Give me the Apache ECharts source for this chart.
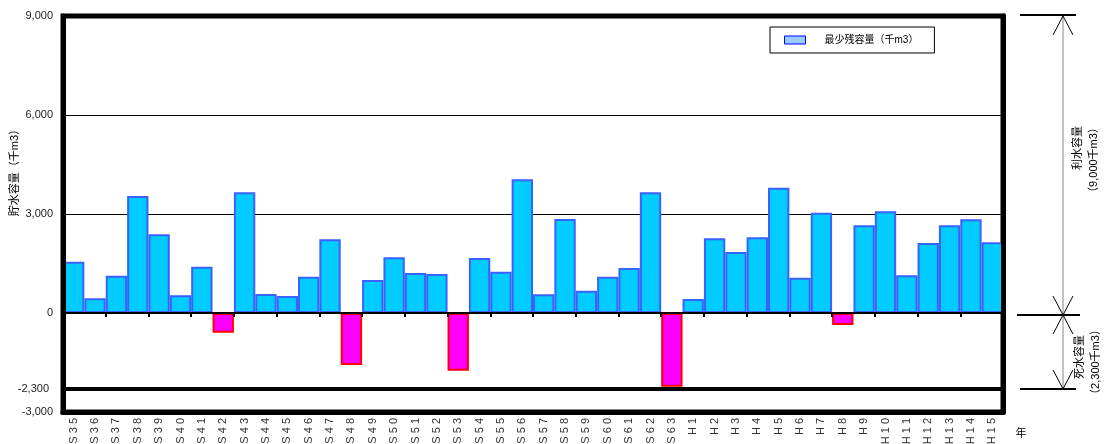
<!DOCTYPE html>
<html>
<head>
<meta charset="utf-8">
<script src="https://cdn.jsdelivr.net/npm/echarts@6/dist/echarts.min.js"></script>
<style>
  html, body { margin: 0; padding: 0; background: #fff; }
  #chart { width: 1108px; height: 444px; }
</style>
</head>
<body>
<div id="chart"></div>
<script>
// 年（昭和 S35〜S63、平成 H1〜H15）
var years = [
  'S35', 'S36', 'S37', 'S38', 'S39', 'S40', 'S41', 'S42', 'S43', 'S44',
  'S45', 'S46', 'S47', 'S48', 'S49', 'S50', 'S51', 'S52', 'S53', 'S54',
  'S55', 'S56', 'S57', 'S58', 'S59', 'S60', 'S61', 'S62', 'S63',
  'H1', 'H2', 'H3', 'H4', 'H5', 'H6', 'H7', 'H8', 'H9', 'H10',
  'H11', 'H12', 'H13', 'H14', 'H15'
];

// 最少残容量（千m3）、マイナスは死水容量への食い込み
var minStorage = [
  1555, 445, 1130, 3545, 2385, 535, 1405, -597, 3657, 576,
  515, 1100, 2233, -1576, 1000, 1688, 1212, 1182, -1748, 1667,
  1252, 4051, 566, 2848, 676, 1100, 1364, 3657, -2233,
  424, 2263, 1848, 2293, 3798, 1070, 3040, -364, 2657, 3081,
  1142, 2121, 2657, 2839, 2142
];

// 縦軸
var axisMin = -3000;
var axisMax = 9000;
var axisStep = 3000;

// 利水容量の上端・死水容量の下端
var fullLevel = 9000;
var deadLevel = -2300;
var deadLabel = '-2,300';

var seriesName = '最少残容量（千m3）';
var yTitle = '貯水容量（千m3）';

var FONT = '"Liberation Sans", "Noto Sans CJK JP", sans-serif';

var posStyle = { color: '#00ccff', borderColor: '#3a62ff', borderWidth: 2 };
var negStyle = { color: '#ff00ff', borderColor: '#ff0000', borderWidth: 2 };

var chart = echarts.init(document.getElementById('chart'), null, { renderer: 'canvas' });

// 軸線だけを描く補助軸
function borderYAxis(position) {
  return {
    type: 'value', position: position, min: axisMin, max: axisMax, interval: axisStep, z: 5,
    axisLine: { show: true, onZero: false, lineStyle: { color: '#000', width: 5 } },
    axisTick: { show: false }, axisLabel: { show: false }, splitLine: { show: false }
  };
}

var option = {
  animation: false,
  backgroundColor: '#fff',
  grid: {
    left: 63, right: 105, top: 16, bottom: 32,
    outerBoundsMode: 'none', containLabel: false,
    show: true, borderColor: '#000', borderWidth: 5, backgroundColor: 'transparent'
  },
  legend: {
    left: 770, top: 27,
    padding: [8, 16, 8, 14],
    borderColor: '#000', borderWidth: 1,
    itemWidth: 21, itemHeight: 8,
    textStyle: { fontSize: 10, color: '#000', fontFamily: FONT, padding: [0, 0, 0, 14] },
    data: [{
      name: seriesName, icon: 'rect',
      itemStyle: { color: '#99ccff', borderColor: '#0000ff', borderWidth: 1 }
    }]
  },
  xAxis: [
    {
      // 下枠と年ラベル
      type: 'category', data: years, position: 'bottom', z: 5,
      axisLine: { onZero: false, lineStyle: { color: '#000', width: 5 } },
      axisTick: { show: false },
      axisLabel: {
        rotate: 90, margin: 6, fontSize: 11, color: '#333', fontFamily: FONT,
        interval: 0,
        formatter: function (v) { return v.split('').join(' '); }
      }
    },
    {
      // ゼロ線と目盛り
      type: 'category', data: years, position: 'top', z: 5,
      axisLine: { onZero: true, lineStyle: { color: '#000', width: 2 } },
      axisTick: { show: true, inside: true, length: 4, lineStyle: { color: '#000', width: 2 } },
      axisLabel: { show: false }
    }
  ],
  yAxis: [
    {
      type: 'value', position: 'left', min: axisMin, max: axisMax, interval: axisStep,
      axisLine: { show: false },
      axisTick: { show: false },
      axisLabel: {
        margin: 10, fontSize: 11, color: '#222', fontFamily: FONT,
        formatter: function (v) { return v.toLocaleString('en-US'); }
      },
      splitLine: { show: true, lineStyle: { color: '#000', width: 1 } }
    },
    borderYAxis('left'),
    borderYAxis('right')
  ],
  series: [{
    name: seriesName,
    type: 'bar',
    xAxisIndex: 0, yAxisIndex: 0,
    barWidth: '100%', barCategoryGap: 0,
    data: minStorage.map(function (v) {
      return { value: v, itemStyle: v < 0 ? negStyle : posStyle };
    }),
    markLine: {
      silent: true, symbol: 'none',
      lineStyle: { color: '#000', width: 4, type: 'solid' },
      label: {
        position: 'start', distance: 14, formatter: deadLabel,
        fontSize: 11, color: '#222', fontFamily: FONT
      },
      emphasis: { disabled: true },
      data: [{ yAxis: deadLevel }]
    }
  }]
};

chart.setOption(option);

// 右側の寸法線（利水容量・死水容量）
var yFull = chart.convertToPixel({ yAxisIndex: 0 }, fullLevel);
var yZero = chart.convertToPixel({ yAxisIndex: 0 }, 0);
var yDead = chart.convertToPixel({ yAxisIndex: 0 }, deadLevel);
var ax = 1063;

function hline(x1, x2, y) {
  return { type: 'line', silent: true, shape: { x1: x1, y1: y, x2: x2, y2: y }, style: { stroke: '#000', lineWidth: 2 } };
}
function arrow(y, dir) {
  return {
    type: 'polyline', silent: true,
    shape: { points: [[ax - 10, y + dir * 19], [ax, y], [ax + 10, y + dir * 19]] },
    style: { stroke: '#000', lineWidth: 1, fill: null }
  };
}
function vtext(x, y, text) {
  return {
    type: 'text', silent: true, x: x, y: y, rotation: Math.PI / 2,
    style: { text: text, font: '11px ' + FONT, fill: '#000', align: 'center', verticalAlign: 'middle' }
  };
}

chart.setOption({
  graphic: [
    { type: 'line', silent: true, shape: { x1: ax, y1: yFull, x2: ax, y2: yDead }, style: { stroke: '#888', lineWidth: 1 } },
    hline(1020, 1076, yFull - 1),
    hline(1017, 1080, yZero + 2),
    hline(1020, 1076, yDead),
    arrow(yFull, 1),
    arrow(yZero + 2, -1),
    arrow(yZero + 2, 1),
    arrow(yDead, -1),
    vtext(1078, 148, '利水容量'),
    vtext(1094, 160, '（9,000千m3）'),
    vtext(1080, 357, '死水容量'),
    vtext(1096, 362, '（2,300千m3）'),
    vtext(15, 170, yTitle),
    {
      type: 'text', silent: true, x: 1021, y: 434,
      style: { text: '年', font: '11px ' + FONT, fill: '#000', align: 'center', verticalAlign: 'middle' }
    }
  ]
});
</script>
</body>
</html>
